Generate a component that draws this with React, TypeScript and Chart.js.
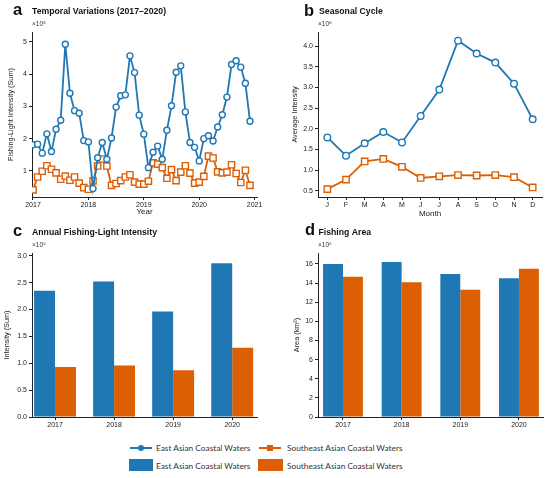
import { useEffect, useRef } from 'react';
import { Chart, registerables } from 'chart.js';

Chart.register(...registerables);

const years = [2017, 2018, 2019, 2020];
const monthLetters = ['J', 'F', 'M', 'A', 'M', 'J', 'J', 'A', 'S', 'O', 'N', 'D'];

// (a) monthly sums Jan 2017 .. Dec 2020, x10^8
const eastMonthly = [
  1.81, 1.83, 1.55, 2.15, 1.6, 2.29, 2.57, 4.93, 3.41, 2.87, 2.79, 1.94,
  1.9, 0.45, 1.41, 1.88, 1.36, 2.02, 2.98, 3.33, 3.36, 4.57, 4.05, 2.73,
  2.14, 1.1, 1.58, 1.77, 1.36, 2.26, 3.02, 4.06, 4.26, 2.83, 1.88, 1.73,
  1.31, 2.0, 2.09, 1.93, 2.36, 2.74, 3.29, 4.3, 4.42, 4.22, 3.72, 2.54,
];
const southeastMonthly = [
  0.41, 0.81, 0.99, 1.16, 1.05, 0.94, 0.74, 0.84, 0.71, 0.81, 0.62, 0.48,
  0.43, 0.69, 1.15, 1.37, 1.15, 0.55, 0.61, 0.7, 0.81, 0.88, 0.65, 0.59,
  0.59, 0.68, 1.25, 1.21, 1.1, 0.77, 1.04, 0.7, 0.96, 1.16, 0.93, 0.62,
  0.65, 0.83, 1.46, 1.4, 0.97, 0.94, 0.96, 1.19, 0.92, 0.64, 1.02, 0.55,
];

// (b) seasonal cycle, x10^8
const eastSeasonal = [1.79, 1.35, 1.65, 1.92, 1.67, 2.31, 2.95, 4.13, 3.82, 3.6, 3.09, 2.23];
const southeastSeasonal = [0.54, 0.77, 1.21, 1.27, 1.08, 0.81, 0.85, 0.88, 0.87, 0.88, 0.83, 0.58];

// (c) annual intensity
const eastAnnual = [2.35, 2.52, 1.96, 2.86];
const southeastAnnual = [0.93, 0.96, 0.87, 1.29];

// (d) fishing area
const eastArea = [16.0, 16.2, 14.95, 14.5];
const southeastArea = [14.67, 14.08, 13.3, 15.5];

const ticksA = [1, 2, 3, 4, 5];
const ticksB = [0.5, 1.0, 1.5, 2.0, 2.5, 3.0, 3.5, 4.0];
const ticksC = [0, 0.5, 1.0, 1.5, 2.0, 2.5, 3.0];
const ticksD = [0, 2, 4, 6, 8, 10, 12, 14, 16];
const yearTicksA = [2017, 2018, 2019, 2020, 2021];

const BLUE = '#1f77b4';
const ORANGE = '#dc5f04';
const FONT = "'Liberation Sans', Arial, sans-serif";

const panelText = {
  id: 'panelText',
  afterDraw(chart, _args, opts) {
    const { ctx, chartArea } = chart;
    ctx.save();
    ctx.fillStyle = '#111';
    ctx.textAlign = 'left';
    ctx.textBaseline = 'alphabetic';
    ctx.font = `bold 16.5px ${FONT}`;
    ctx.fillText(opts.letter, opts.lx, opts.ly);
    ctx.font = `bold 8.7px ${FONT}`;
    ctx.fillText(opts.title, opts.tx, opts.ty);
    ctx.fillStyle = '#333';
    ctx.font = `6.5px ${FONT}`;
    ctx.fillText(opts.exp, chartArea.left, chartArea.top - 6);
    ctx.restore();
  },
};

const setTicks = (vals) => (scale) => {
  scale.ticks = vals.map((v) => ({ value: v }));
};

const axisBase = {
  border: { display: true, color: '#222', width: 1 },
  grid: { display: true, drawOnChartArea: false, drawTicks: true, tickLength: 3, color: '#222' },
};

const tickFont = { family: FONT, size: 7 };

function yAxis(min, max, vals, width, title, titlePad, fmt) {
  return {
    type: 'linear',
    min,
    max,
    afterBuildTicks: setTicks(vals),
    afterFit: (s) => { s.width = width; },
    ...axisBase,
    ticks: { color: '#1a1a1a', font: tickFont, padding: 2, callback: fmt },
    title: { display: true, text: title, color: '#222', font: { family: FONT, size: 7.3 }, padding: { top: titlePad, bottom: 0 } },
  };
}

function lineSet(label, data, color, style, radius) {
  return {
    label,
    data,
    borderColor: color,
    backgroundColor: color,
    borderWidth: 1.8,
    pointStyle: style,
    pointRadius: radius,
    pointBorderWidth: 1.4,
    pointBackgroundColor: '#fff',
    pointBorderColor: color,
    tension: 0,
  };
}

function configA() {
  const pts = (arr) => arr.map((v, i) => ({ x: years[Math.floor(i / 12)] + (i % 12) / 12, y: v }));
  return {
    type: 'line',
    data: {
      datasets: [
        lineSet('East Asian Coastal Waters', pts(eastMonthly), BLUE, 'circle', 3),
        lineSet('Southeast Asian Coastal Waters', pts(southeastMonthly), ORANGE, 'rect', 4.4),
      ],
    },
    options: {
      responsive: false,
      animation: false,
      layout: { padding: { left: 0, right: 18, top: 32, bottom: 0 } },
      plugins: {
        legend: { display: false },
        tooltip: { enabled: false },
        panelText: { letter: 'a', lx: 13, ly: 15, title: 'Temporal Variations (2017\u20132020)', tx: 32, ty: 14, exp: '\u00d710\u2078' },
      },
      scales: {
        x: {
          type: 'linear',
          min: 2016.982,
          max: 2021.043,
          afterBuildTicks: setTicks(yearTicksA),
          afterFit: (s) => { s.height = 23; },
          ...axisBase,
          ticks: { color: '#1a1a1a', font: tickFont, padding: 1, callback: (v) => String(v) },
          title: { display: true, text: 'Year', color: '#222', font: { family: FONT, size: 8 }, padding: { top: 0, bottom: 3 } },
        },
        y: yAxis(0.19, 5.31, ticksA, 32, 'Fishing-Light Intensity (Sum)', 6.6, (v) => String(v)),
      },
    },
    plugins: [panelText],
  };
}

function configB() {
  return {
    type: 'line',
    data: {
      labels: monthLetters,
      datasets: [
        lineSet('East Asian Coastal Waters', eastSeasonal, BLUE, 'circle', 3.3),
        lineSet('Southeast Asian Coastal Waters', southeastSeasonal, ORANGE, 'rect', 4.5),
      ],
    },
    options: {
      responsive: false,
      animation: false,
      layout: { padding: { left: 0, right: 8, top: 32, bottom: 0 } },
      plugins: {
        legend: { display: false },
        tooltip: { enabled: false },
        panelText: { letter: 'b', lx: 29, ly: 16, title: 'Seasonal Cycle', tx: 44, ty: 14, exp: '\u00d710\u2078' },
      },
      scales: {
        x: {
          type: 'category',
          offset: true,
          afterFit: (s) => { s.height = 23; },
          ...axisBase,
          grid: { ...axisBase.grid, offset: false },
          ticks: { color: '#1a1a1a', font: tickFont, padding: 1, autoSkip: false, maxRotation: 0 },
          title: { display: true, text: 'Month', color: '#222', font: { family: FONT, size: 8 }, padding: { top: 0, bottom: 1.5 } },
        },
        y: yAxis(0.35, 4.34, ticksB, 43, 'Average Intensity', 15.6, (v) => Number(v).toFixed(1)),
      },
    },
    plugins: [panelText],
  };
}

function barConfig(east, southeast, xmin, xmax, catPct, yAx, text, padRight) {
  const pts = (arr) => arr.map((v, i) => ({ x: years[i], y: v }));
  return {
    type: 'bar',
    data: {
      datasets: [
        { label: 'East Asian Coastal Waters', data: pts(east), backgroundColor: BLUE, borderWidth: 0, barPercentage: 1, categoryPercentage: catPct },
        { label: 'Southeast Asian Coastal Waters', data: pts(southeast), backgroundColor: ORANGE, borderWidth: 0, barPercentage: 1, categoryPercentage: catPct },
      ],
    },
    options: {
      responsive: false,
      animation: false,
      layout: { padding: { left: 0, right: padRight, top: 33, bottom: 0 } },
      plugins: {
        legend: { display: false },
        tooltip: { enabled: false },
        panelText: text,
      },
      scales: {
        x: {
          type: 'linear',
          offset: false,
          min: xmin,
          max: xmax,
          afterBuildTicks: setTicks(years),
          afterFit: (s) => { s.height = 18; },
          ...axisBase,
          grid: { ...axisBase.grid, offset: false },
          ticks: { color: '#1a1a1a', font: tickFont, padding: 1, callback: (v) => String(v) },
        },
        y: yAx,
      },
    },
    plugins: [panelText],
  };
}

function configC() {
  return barConfig(
    eastAnnual, southeastAnnual, 2016.61, 2020.42, 0.71,
    yAxis(0, 3.05, ticksC, 32, 'Intensity (Sum)', 2.6, (v) => Number(v).toFixed(1)),
    { letter: 'c', lx: 13, ly: 16, title: 'Annual Fishing-Light Intensity', tx: 32, ty: 15, exp: '\u00d710\u2079' },
    18,
  );
}

function configD() {
  return barConfig(
    eastArea, southeastArea, 2016.574, 2020.41, 0.68,
    yAxis(0, 17.15, ticksD, 43, 'Area (km\u00b2)', 17.6, (v) => String(v)),
    { letter: 'd', lx: 30, ly: 15, title: 'Fishing Area', tx: 43.5, ty: 15, exp: '\u00d710\u2075' },
    7,
  );
}

function Panel({ make, left, top, width, height }) {
  const canvasRef = useRef(null);

  useEffect(() => {
    if (!canvasRef.current) return;
    const chart = new Chart(canvasRef.current, make());
    return () => chart.destroy();
  }, []);

  return (
    <canvas
      ref={canvasRef}
      width={width}
      height={height}
      style={{ position: 'absolute', left, top, width, height }}
    />
  );
}

const legendText = {
  position: 'absolute',
  fontFamily: "Lato, 'Open Sans', sans-serif",
  fontSize: 8.3,
  color: '#333',
  lineHeight: '12px',
  whiteSpace: 'nowrap',
};

function LineSwatch({ x, y, color, square }) {
  return (
    <div style={{ position: 'absolute', left: x, top: y, width: 22, height: 8 }}>
      <div style={{ position: 'absolute', left: 0, top: 3, width: 22, height: 2, background: color }} />
      <div
        style={{
          position: 'absolute',
          left: 8,
          top: 1,
          width: 6,
          height: 6,
          background: color,
          borderRadius: square ? 0 : 3,
        }}
      />
    </div>
  );
}

export default function App() {
  return (
    <div style={{ position: 'absolute', left: 0, top: 0, width: 550, height: 478, background: '#fff', overflow: 'hidden' }}>
      <Panel make={configA} left={0} top={0} width={275} height={220} />
      <Panel make={configB} left={275} top={0} width={275} height={220} />
      <Panel make={configC} left={0} top={220} width={275} height={215} />
      <Panel make={configD} left={275} top={220} width={275} height={215} />

      <LineSwatch x={130} y={444} color={BLUE} square={false} />
      <div style={{ ...legendText, left: 156, top: 442 }}>East Asian Coastal Waters</div>
      <LineSwatch x={259} y={444} color={ORANGE} square={true} />
      <div style={{ ...legendText, left: 287, top: 442 }}>Southeast Asian Coastal Waters</div>

      <div style={{ position: 'absolute', left: 129, top: 459, width: 24, height: 12, background: BLUE }} />
      <div style={{ ...legendText, left: 156, top: 460 }}>East Asian Coastal Waters</div>
      <div style={{ position: 'absolute', left: 258, top: 459, width: 25, height: 12, background: ORANGE }} />
      <div style={{ ...legendText, left: 287, top: 460 }}>Southeast Asian Coastal Waters</div>
    </div>
  );
}
